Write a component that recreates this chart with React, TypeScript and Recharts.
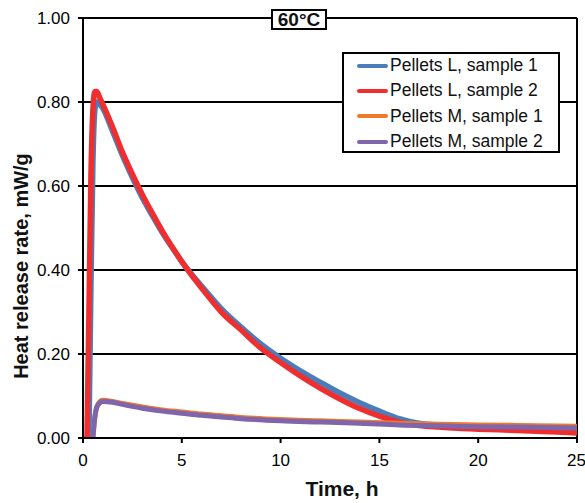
import React from 'react';
import { LineChart, Line, XAxis, YAxis, CartesianGrid, ReferenceLine } from 'recharts';

// [time h, heat release rate mW/g]
const pelletsL1: [number, number][] = [
  [0.3, 0], [0.4, 0.35], [0.5, 0.65], [0.6, 0.78], [0.7, 0.8], [0.85, 0.795], [1, 0.785],
  [1.5, 0.73], [2, 0.672], [2.5, 0.62], [3, 0.572], [3.5, 0.53], [4, 0.49], [4.5, 0.454],
  [5, 0.42], [6, 0.362], [7, 0.308], [8, 0.264], [9, 0.224], [10, 0.19], [11, 0.16],
  [12, 0.133], [13, 0.107], [14, 0.084], [15, 0.064], [16, 0.046], [17, 0.035], [18, 0.03],
  [19, 0.027], [20, 0.025], [22, 0.023], [24, 0.021], [25, 0.02],
];

const pelletsL2: [number, number][] = [
  [0.2, 0], [0.3, 0.3], [0.4, 0.62], [0.5, 0.78], [0.6, 0.825], [0.7, 0.825], [0.85, 0.81],
  [1, 0.795], [1.5, 0.74], [2, 0.68], [2.5, 0.628], [3, 0.58], [3.5, 0.536], [4, 0.494],
  [4.5, 0.456], [5, 0.42], [6, 0.357], [7, 0.3], [8, 0.257], [9, 0.214], [10, 0.18],
  [11, 0.148], [12, 0.119], [13, 0.093], [14, 0.07], [15, 0.052], [16, 0.038], [17, 0.03],
  [18, 0.026], [19, 0.023], [20, 0.021], [22, 0.018], [24, 0.014], [25, 0.012],
];

const pelletsM1: [number, number][] = [
  [0.5, 0], [0.6, 0.05], [0.75, 0.08], [1, 0.09], [1.5, 0.087], [2, 0.082], [3, 0.074],
  [4, 0.067], [5, 0.062], [6, 0.057], [7, 0.053], [8, 0.049], [10, 0.044], [12, 0.041],
  [14, 0.038], [16, 0.035], [18, 0.033], [20, 0.031], [22, 0.03], [25, 0.028],
];

const pelletsM2: [number, number][] = [
  [0.5, 0], [0.6, 0.05], [0.75, 0.078], [1, 0.087], [1.5, 0.085], [2, 0.08], [3, 0.071],
  [4, 0.064], [5, 0.059], [6, 0.054], [7, 0.05], [8, 0.046], [10, 0.041], [12, 0.038],
  [14, 0.035], [16, 0.031], [18, 0.029], [20, 0.027], [22, 0.026], [25, 0.024],
];

const xTicks = [0, 5, 10, 15, 20, 25];
const yTicks = [0, 0.2, 0.4, 0.6, 0.8, 1.0];

const series = [
  { name: 'Pellets L, sample 1', points: pelletsL1, color: '#4a7ebb', width: 5.5 },
  { name: 'Pellets L, sample 2', points: pelletsL2, color: '#ef2f2f', width: 5.5 },
  { name: 'Pellets M, sample 1', points: pelletsM1, color: '#ef7a2a', width: 5 },
  { name: 'Pellets M, sample 2', points: pelletsM2, color: '#7f65ac', width: 5 },
];

const font = '"Liberation Sans", Arial, sans-serif';

const LegendBox = () => (
  <div
    style={{
      position: 'absolute',
      left: 342,
      top: 52,
      width: 218,
      height: 101,
      boxSizing: 'border-box',
      border: '2px solid #000',
      background: '#fff',
      paddingLeft: 13,
      fontSize: 17.5,
      color: '#111',
    }}
  >
    <div style={{ marginTop: -1 }}>
      {series.map((s) => (
        <div key={s.name} style={{ display: 'flex', alignItems: 'center', height: 25.3, whiteSpace: 'nowrap' }}>
          <span style={{ display: 'inline-block', width: 31, height: 4, background: s.color, borderRadius: 2, marginRight: 2 }} />
          <span>{s.name}</span>
        </div>
      ))}
    </div>
  </div>
);

export default function App() {
  return (
    <div style={{ position: 'absolute', left: 0, top: 0, width: 585, height: 503, background: '#fff', fontFamily: font }}>
      <LineChart width={585} height={503} margin={{ top: 18, right: 8, bottom: 0, left: 0 }}>
        <CartesianGrid horizontal vertical={false} stroke="#000" strokeWidth={2} strokeOpacity={1} />
        <XAxis
          dataKey="0"
          type="number"
          domain={[0, 25]}
          ticks={xTicks}
          height={65}
          allowDataOverflow
          stroke="#000"
          strokeWidth={2}
          tickSize={5}
          tickMargin={11}
          tick={{ fill: '#000', fontSize: 17, fontFamily: font }}
        />
        <YAxis
          type="number"
          domain={[0, 1]}
          ticks={yTicks}
          width={83}
          allowDataOverflow
          stroke="#000"
          strokeWidth={2}
          tickSize={5}
          tickMargin={8}
          tickFormatter={(v: number) => v.toFixed(2)}
          tick={{ fill: '#000', fontSize: 17, fontFamily: font }}
        />
        <ReferenceLine x={25} stroke="#000" strokeWidth={2} />
        {series.map((s) => (
          <Line
            key={s.name}
            name={s.name}
            data={s.points}
            dataKey="1"
            type="monotone"
            stroke={s.color}
            strokeWidth={s.width}
            dot={false}
            isAnimationActive={false}
          />
        ))}
      </LineChart>

      <LegendBox />

      <div
        style={{
          position: 'absolute',
          left: 271,
          top: 9,
          width: 56,
          height: 21,
          boxSizing: 'border-box',
          border: '2px solid #000',
          background: '#fff',
          fontWeight: 'bold',
          fontSize: 19,
          lineHeight: '17px',
          textAlign: 'center',
          color: '#111',
        }}
      >
        60°C
      </div>

      <div
        style={{
          position: 'absolute',
          left: 342,
          top: 489,
          transform: 'translate(-50%, -50%)',
          fontWeight: 'bold',
          fontSize: 21,
          whiteSpace: 'nowrap',
          color: '#111',
        }}
      >
        Time, h
      </div>

      <div
        style={{
          position: 'absolute',
          left: 21,
          top: 266,
          transform: 'translate(-50%, -50%) rotate(-90deg)',
          fontWeight: 'bold',
          fontSize: 20,
          whiteSpace: 'nowrap',
          color: '#111',
        }}
      >
        Heat release rate, mW/g
      </div>
    </div>
  );
}
